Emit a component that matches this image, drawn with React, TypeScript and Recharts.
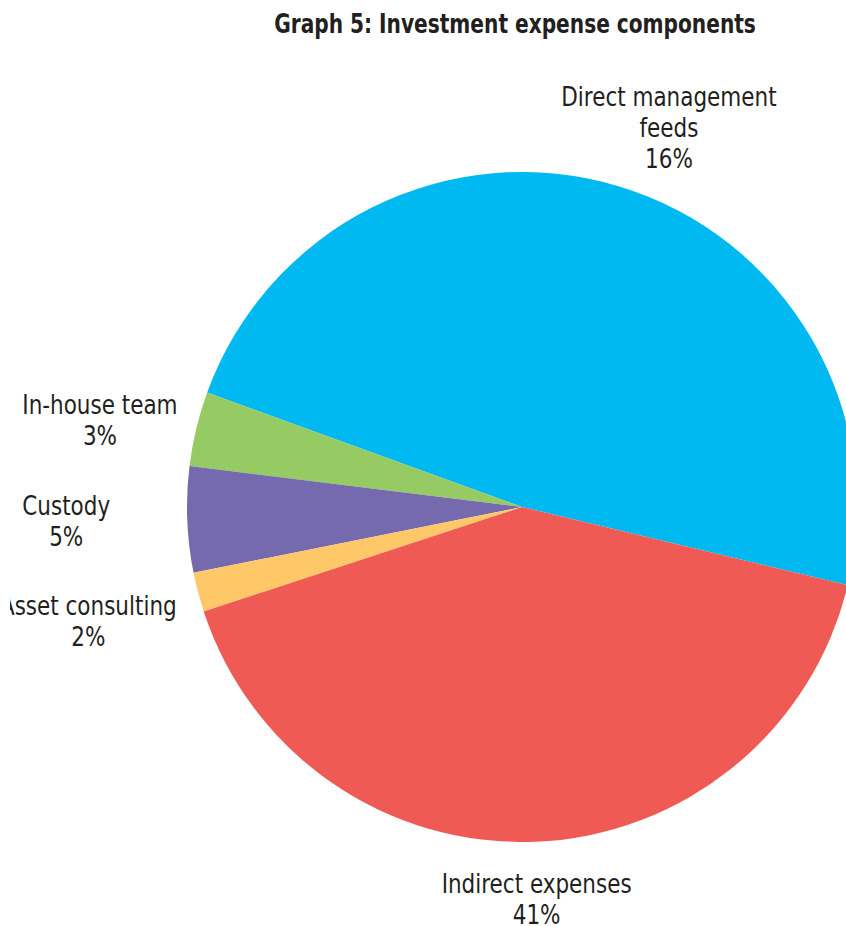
import { PieChart, Pie, Cell } from "recharts";

const sliceNames = [
  "Direct management feeds",
  "In-house team",
  "Custody",
  "Asset consulting",
  "Indirect expenses",
];
// slice sizes as drawn in the picture
const sliceValues = [48.2, 3.6, 5.1, 1.9, 41.2];
// percentages as printed on the labels
const slicePercents = ["16%", "3%", "5%", "2%", "41%"];
const labelNameLines = [
  ["Direct management", "feeds"],
  ["In-house team"],
  ["Custody"],
  ["Asset consulting"],
  ["Indirect expenses"],
];
const sliceColors = ["#00B9F1", "#96CA63", "#766AAE", "#FEC868", "#F05A55"];

const data = sliceNames.map((name, i) => ({ name, value: sliceValues[i] }));

// label placement: distance beyond the rim and small angle nudge per slice
const labelGap = [71.5, 96, 121, 113.5, 57];
const labelTurn = [-4.45, 1.8, -0.4, 0, -0.2];

const FONT = "'Liberation Sans Narrow', 'DejaVu Sans Condensed', 'Roboto', sans-serif";
const RADIAN = Math.PI / 180;
const LINE_H = 31;

function renderLabel(props: any) {
  const { cx, cy, midAngle, outerRadius, index } = props;
  const ang = (midAngle + labelTurn[index]) * RADIAN;
  const r = outerRadius + labelGap[index];
  const x = cx + r * Math.cos(ang);
  const y = cy - r * Math.sin(ang);
  const lines = [...labelNameLines[index], slicePercents[index]];
  const first = -((lines.length - 1) / 2) * LINE_H + 9.5;
  return (
    <text
      key={`lbl-${index}`}
      transform={`translate(${x},${y}) scale(0.92,1)`}
      textAnchor="middle"
      fill="#231F20"
      fontFamily={FONT}
      fontSize={26}
    >
      {lines.map((t, i) => (
        <tspan key={i} x={0} y={first + i * LINE_H}>
          {t}
        </tspan>
      ))}
    </text>
  );
}

export default function App() {
  return (
    <div
      style={{
        position: "fixed",
        left: 10,
        top: 8,
        width: 836,
        height: 918,
        overflow: "hidden",
        background: "#fff",
      }}
    >
      <PieChart
        width={836}
        height={918}
        margin={{ top: 0, right: 0, bottom: 0, left: 0 }}
      >
        <Pie
          data={data}
          dataKey="value"
          nameKey="name"
          cx={512}
          cy={499}
          innerRadius={0}
          outerRadius={335}
          startAngle={-13.5}
          endAngle={346.5}
          stroke="none"
          label={renderLabel}
          labelLine={false}
          isAnimationActive={false}
        >
          {data.map((d, i) => (
            <Cell key={d.name} fill={sliceColors[i]} />
          ))}
        </Pie>
      </PieChart>
      <svg
        width={836}
        height={60}
        style={{ position: "absolute", left: 0, top: 0, pointerEvents: "none" }}
      >
        <text
          transform="translate(505,25) scale(0.83,1)"
          textAnchor="middle"
          fill="#231F20"
          fontFamily={FONT}
          fontWeight="bold"
          fontSize={27}
        >
          Graph 5: Investment expense components
        </text>
      </svg>
    </div>
  );
}
